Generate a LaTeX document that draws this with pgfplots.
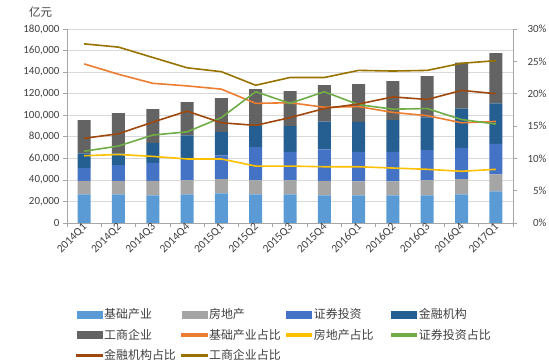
\documentclass[border=0pt]{standalone}
\usepackage{fontspec}
\setmainfont{Carlito}
\newfontfamily\cjk{Noto Sans CJK SC}
\usepackage{pgfplots}
\pgfplotsset{compat=1.18}
\definecolor{cA}{HTML}{5B9BD5}
\definecolor{cB}{HTML}{A5A5A5}
\definecolor{cC}{HTML}{4472C4}
\definecolor{cD}{HTML}{255E91}
\definecolor{cE}{HTML}{636363}
\definecolor{lA}{HTML}{ED7D31}
\definecolor{lB}{HTML}{FFC000}
\definecolor{lC}{HTML}{70AD47}
\definecolor{lD}{HTML}{9E480E}
\definecolor{lE}{HTML}{997300}
\definecolor{axgray}{HTML}{A6A6A6}
\definecolor{gridgray}{HTML}{D9D9D9}
\definecolor{txt}{HTML}{404040}
\pgfplotsset{
  barleg/.style={legend image code/.code={\fill[#1] (0bp,-3.5bp) rectangle (25bp,3.5bp);}},
  lineleg/.style={legend image code/.code={\fill[#1] (0bp,-1bp) rectangle (25bp,1bp);}},
  base/.style={
    scale only axis, width=446bp, height=194bp,
    at={(67bp,137bp)}, anchor=south west,
    xmin=-0.5, xmax=12.5,
    tick align=outside, major tick length=4bp,
    tick style={draw=axgray, line width=0.75bp},
    axis line style={draw=axgray, line width=0.75bp},
    tick label style={font=\fontsize{11}{13}\selectfont, text=txt},
    /pgf/number format/assume math mode=true,
  },
}
\begin{document}
\begin{tikzpicture}
\path[use as bounding box] (0,0) rectangle (549bp,360bp);
\node[font=\cjk\fontsize{11.5}{13}\selectfont, text=txt] at (40.5bp,347.5bp) {亿元};
\begin{axis}[base,
  ymin=0, ymax=180000,
  ybar stacked, bar width=13bp,
  axis x line*=bottom, axis y line*=left,
  ytick={0,20000,...,180000},
  scaled y ticks=false,
  yticklabel style={/pgf/number format/.cd, fixed, 1000 sep={,}},
  ymajorgrids, grid style={draw=gridgray, line width=0.75bp},
  xtick={-0.5,0.5,...,12.5}, xticklabels={},
  extra x ticks={0,1,2,3,4,5,6,7,8,9,10,11,12},
  extra x tick labels={2014Q1,2014Q2,2014Q3,2014Q4,2015Q1,2015Q2,2015Q3,2015Q4,2016Q1,2016Q2,2016Q3,2016Q4,2017Q1},
  extra x tick style={major tick length=0pt, xticklabel style={rotate=45, anchor=east, xshift=2.5bp, yshift=-2.5bp, font=\fontsize{11.5}{13}\selectfont, text=txt}},
]
\addplot[fill=cA, draw=none] coordinates {(0,26600) (1,26600) (2,25700) (3,26600) (4,27600) (5,26600) (6,26600) (7,25700) (8,25700) (9,25700) (10,25700) (11,26600) (12,29400)};
\addplot[fill=cB, draw=none] coordinates {(0,12400) (1,12400) (2,13300) (3,13000) (4,13000) (5,13000) (6,13000) (7,13300) (8,13000) (9,13000) (10,13900) (11,14000) (12,15800)};
\addplot[fill=cC, draw=none] coordinates {(0,11800) (1,14600) (2,16700) (3,18900) (4,22200) (5,30700) (6,26300) (7,29400) (8,27200) (9,27200) (10,27900) (11,29100) (12,28200)};
\addplot[fill=cD, draw=none] coordinates {(0,13900) (1,10900) (2,18600) (3,22900) (4,21700) (5,19500) (6,23900) (7,25700) (8,27900) (9,29500) (10,30600) (11,36500) (12,37700)};
\addplot[fill=cE, draw=none] coordinates {(0,30700) (1,37400) (2,31300) (3,30700) (4,31300) (5,34300) (6,32500) (7,33800) (8,35000) (9,36200) (10,38100) (11,42700) (12,46500)};
\end{axis}
\begin{axis}[base,
  ymin=0, ymax=30,
  axis x line=none, axis y line*=right,
  ytick={0,5,...,30},
  yticklabels={0\%,5\%,10\%,15\%,20\%,25\%,30\%},
  yticklabel style={text width=26bp, align=right},
  legend columns=4,
  legend cell align=left,
  legend style={at={(0.02,-0.434)}, anchor=north west, draw=none, fill=none, inner sep=0pt,
    font=\cjk\fontsize{12}{14}\selectfont, text=txt, row sep=7bp,
    nodes={inner xsep=1.5bp, inner ysep=1bp},
    /tikz/every even column/.append style={column sep=3.5bp}},
]
\addlegendimage{barleg=cA}
\addlegendentry{基础产业}
\addlegendimage{barleg=cB}
\addlegendentry{房地产}
\addlegendimage{barleg=cC}
\addlegendentry{证券投资}
\addlegendimage{barleg=cD}
\addlegendentry{金融机构}
\addlegendimage{barleg=cE}
\addlegendentry{工商企业}
\addplot[lineleg=lA, color=lA, line width=1.6bp, mark=none] coordinates {(0,24.6) (1,23.0) (2,21.6) (3,21.2) (4,20.7) (5,18.5) (6,18.6) (7,17.9) (8,18.0) (9,17.1) (10,16.6) (11,15.5) (12,15.7)};
\addlegendentry{基础产业占比}
\addplot[lineleg=lB, color=lB, line width=1.6bp, mark=none] coordinates {(0,10.4) (1,10.6) (2,10.3) (3,9.9) (4,9.9) (5,8.8) (6,8.8) (7,8.7) (8,8.7) (9,8.5) (10,8.3) (11,8.0) (12,8.3)};
\addlegendentry{\makebox[72bp][l]{房地产占比}}
\addplot[lineleg=lC, color=lC, line width=1.6bp, mark=none] coordinates {(0,11.1) (1,11.9) (2,13.6) (3,14.1) (4,16.3) (5,20.3) (6,18.5) (7,20.3) (8,18.3) (9,17.6) (10,17.7) (11,16.0) (12,15.3)};
\addlegendentry{证券投资占比}
\addplot[lineleg=lD, color=lD, line width=1.6bp, mark=none] coordinates {(0,13.1) (1,13.8) (2,15.6) (3,17.3) (4,15.5) (5,15.1) (6,16.3) (7,17.7) (8,18.4) (9,19.5) (10,19.1) (11,20.5) (12,20.0)};
\addlegendentry{金融机构占比}
\addplot[lineleg=lE, color=lE, line width=1.6bp, mark=none] coordinates {(0,27.7) (1,27.2) (2,25.6) (3,24.0) (4,23.4) (5,21.3) (6,22.5) (7,22.5) (8,23.6) (9,23.5) (10,23.6) (11,24.7) (12,25.1)};
\addlegendentry{工商企业占比}
\end{axis}
\end{tikzpicture}
\end{document}
